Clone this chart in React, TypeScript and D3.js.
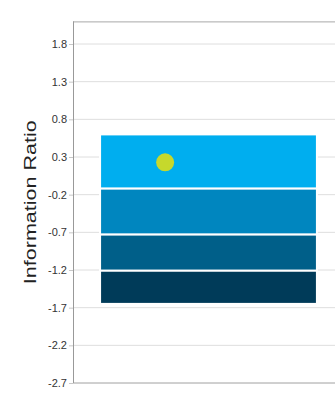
import React, { useEffect, useRef } from 'react';
import * as d3 from 'd3';

// values
const categories = ['Fund'];
const bandEdges = [0.6, -0.12, -0.73, -1.21, -1.65]; // top of each band, then the bottom
const bandColors = ['#00aeef', '#0086bf', '#005f89', '#003b59'];
const pointValues = [0.23];
const tickValues = [1.8, 1.3, 0.8, 0.3, -0.2, -0.7, -1.2, -1.7, -2.2, -2.7];

const svgWidth = 335;
const svgHeight = 393;

const App: React.FC = () => {
  const svgRef = useRef<SVGSVGElement | null>(null);

  useEffect(() => {
    const margin = { top: 21.4, right: -9, bottom: 10, left: 73 };
    const plotRight = svgWidth - margin.right;
    const plotBottom = svgHeight - margin.bottom;

    const svg = d3.select(svgRef.current);
    svg.selectAll('*').remove();

    const yScale = d3.scaleLinear().domain([-2.7, 2.1]).range([plotBottom, margin.top]);
    const xScale = d3
      .scaleBand<string>()
      .domain(categories)
      .range([margin.left, plotRight])
      .padding(0.111);

    // gridlines
    svg
      .append('g')
      .selectAll('line')
      .data(tickValues)
      .join('line')
      .attr('x1', margin.left)
      .attr('x2', svgWidth)
      .attr('y1', (d) => yScale(d))
      .attr('y2', (d) => yScale(d))
      .attr('stroke', '#dedede')
      .attr('stroke-width', 1);

    // top frame line
    svg
      .append('line')
      .attr('x1', margin.left)
      .attr('x2', svgWidth)
      .attr('y1', yScale(2.1) + 0.5)
      .attr('y2', yScale(2.1) + 0.5)
      .attr('stroke', '#a8a8a8');

    // bottom line
    svg
      .append('line')
      .attr('x1', margin.left)
      .attr('x2', svgWidth)
      .attr('y1', yScale(-2.7))
      .attr('y2', yScale(-2.7))
      .attr('stroke', '#b0b0b0');

    // y axis (plain hyphen for negatives, like the original)
    const yAxis = svg
      .append('g')
      .attr('transform', `translate(${margin.left},0)`)
      .call(
        d3
          .axisLeft(yScale)
          .tickValues(tickValues)
          .tickSize(4)
          .tickPadding(2)
          .tickFormat((d) => (d as number).toFixed(1))
      );
    yAxis.select('.domain').attr('stroke', '#999').attr('d', `M0.5,${yScale(2.1)}V${yScale(-2.7)}`);
    yAxis.selectAll('.tick line').attr('stroke', '#c8c8c8');
    yAxis
      .selectAll('.tick text')
      .attr('fill', '#333')
      .attr('font-size', 11)
      .attr('font-family', 'Arial, "Liberation Sans", sans-serif');

    // stacked bands
    const bands = bandColors.map((c, i) => ({ top: bandEdges[i], bottom: bandEdges[i + 1], color: c }));
    const x0 = xScale(categories[0]) ?? 0;
    svg
      .append('g')
      .selectAll('rect')
      .data(bands)
      .join('rect')
      .attr('x', x0)
      .attr('width', xScale.bandwidth())
      .attr('y', (d) => yScale(d.top))
      .attr('height', (d) => yScale(d.bottom) - yScale(d.top))
      .attr('fill', (d) => d.color)
      .attr('stroke', '#fff')
      .attr('stroke-width', 2);

    // point
    svg
      .append('g')
      .selectAll('circle')
      .data(pointValues)
      .join('circle')
      .attr('cx', x0 + xScale.bandwidth() * 0.3)
      .attr('cy', (d) => yScale(d))
      .attr('r', 9)
      .attr('fill', '#c6d82c');

    // y label
    const midY = (yScale(2.1) + yScale(-2.7)) / 2;
    svg
      .append('text')
      .attr('transform', `translate(36,${midY}) rotate(-90)`)
      .attr('text-anchor', 'middle')
      .attr('font-size', 17)
      .attr('font-family', 'Arial, "Liberation Sans", sans-serif')
      .attr('fill', '#222')
      .attr('textLength', 164)
      .attr('lengthAdjust', 'spacingAndGlyphs')
      .text('Information Ratio');
  }, []);

  return (
    <svg
      width={svgWidth}
      height={svgHeight}
      ref={svgRef}
      style={{ position: 'absolute', left: 0, top: 0, background: '#fff' }}
    ></svg>
  );
};

export default App;
